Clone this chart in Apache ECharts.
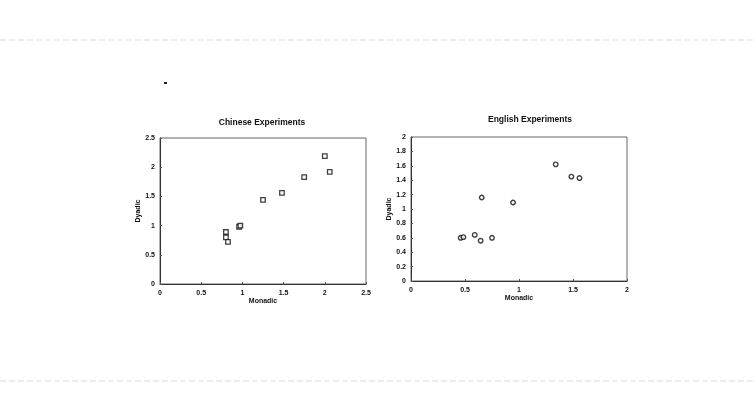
<!DOCTYPE html>
<html>
<head>
<meta charset="utf-8">
<script src="https://cdn.jsdelivr.net/npm/echarts@6/dist/echarts.min.js"></script>
<style>
  html, body { margin: 0; padding: 0; background: #fff; }
  #chart { width: 756px; height: 403px; }
</style>
</head>
<body>
<div id="chart"></div>
<script>
// Chinese experiments (monadic, dyadic)
var chineseMonadic = [0.80, 0.80, 0.825, 0.96, 0.975, 1.25, 1.48, 1.75, 2.0, 2.06];
var chineseDyadic = [0.89, 0.80, 0.72, 0.98, 1.00, 1.44, 1.56, 1.83, 2.19, 1.92];
// English experiments (monadic, dyadic)
var englishMonadic = [0.46, 0.485, 0.59, 0.645, 0.655, 0.75, 0.945, 1.34, 1.485, 1.56];
var englishDyadic = [0.60, 0.61, 0.64, 0.56, 1.16, 0.60, 1.09, 1.62, 1.45, 1.43];

var leftTicks = { min: 0, max: 2.5, interval: 0.5 };
var rightXTicks = { min: 0, max: 2, interval: 0.5 };
var rightYTicks = { min: 0, max: 2, interval: 0.2 };

function pairs(xs, ys) {
  return xs.map(function (x, i) { return [x, ys[i]]; });
}

var chart = echarts.init(document.getElementById("chart"));

var font = "Liberation Sans, Arial, sans-serif";
var labelStyle = { color: "#111", fontSize: 7, fontWeight: "bold", fontFamily: font };

function makeAxis(idx, ticks, name, isY) {
  return {
    type: "value",
    gridIndex: idx,
    min: ticks.min,
    max: ticks.max,
    interval: ticks.interval,
    name: name,
    nameLocation: "middle",
    nameGap: isY ? 17 : 10,
    nameTextStyle: { color: "#111", fontSize: 7, fontWeight: "bold", fontFamily: font },
    axisLine: { show: true, lineStyle: { color: "#333", width: 1 } },
    axisTick: { show: true, inside: true, length: 2, lineStyle: { color: "#555" } },
    splitLine: { show: false },
    axisLabel: Object.assign({ margin: isY ? 5 : 6 }, labelStyle, {
      formatter: function (v) { return String(Math.round(v * 10) / 10); }
    })
  };
}

var option = {
  backgroundColor: "#fff",
  animation: false,
  title: [
    {
      text: "Chinese Experiments",
      left: 257, top: 113, textAlign: "center",
      textStyle: { color: "#111", fontSize: 8.5, fontWeight: "bold", fontFamily: font }
    },
    {
      text: "English Experiments",
      left: 525, top: 110, textAlign: "center",
      textStyle: { color: "#111", fontSize: 8.5, fontWeight: "bold", fontFamily: font }
    }
  ],
  grid: [
    { left: 160, top: 138, width: 206, height: 146, show: true, borderColor: "#666", borderWidth: 1, backgroundColor: "transparent" },
    { left: 411, top: 137, width: 216, height: 144, show: true, borderColor: "#666", borderWidth: 1, backgroundColor: "transparent" }
  ],
  xAxis: [
    makeAxis(0, leftTicks, "Monadic", false),
    makeAxis(1, rightXTicks, "Monadic", false)
  ],
  yAxis: [
    makeAxis(0, leftTicks, "Dyadic", true),
    makeAxis(1, rightYTicks, "Dyadic", true)
  ],
  series: [
    {
      type: "scatter",
      xAxisIndex: 0, yAxisIndex: 0,
      symbol: "rect",
      symbolSize: 4.5,
      itemStyle: { color: "#fff", borderColor: "#111", borderWidth: 1.3 },
      data: pairs(chineseMonadic, chineseDyadic)
    },
    {
      type: "scatter",
      xAxisIndex: 1, yAxisIndex: 1,
      symbol: "circle",
      symbolSize: 4.5,
      itemStyle: { color: "#fff", borderColor: "#111", borderWidth: 1.4 },
      data: pairs(englishMonadic, englishDyadic)
    }
  ],
  graphic: [
    { type: "line", shape: { x1: 0, y1: 40, x2: 756, y2: 40 }, style: { stroke: "#ddd", lineWidth: 1, lineDash: [6, 3] } },
    { type: "line", shape: { x1: 0, y1: 381, x2: 756, y2: 381 }, style: { stroke: "#ddd", lineWidth: 1, lineDash: [6, 3] } },
    { type: "rect", shape: { x: 164, y: 82, width: 3, height: 2 }, style: { fill: "#222" } }
  ]
};

chart.setOption(option);
</script>
</body>
</html>
